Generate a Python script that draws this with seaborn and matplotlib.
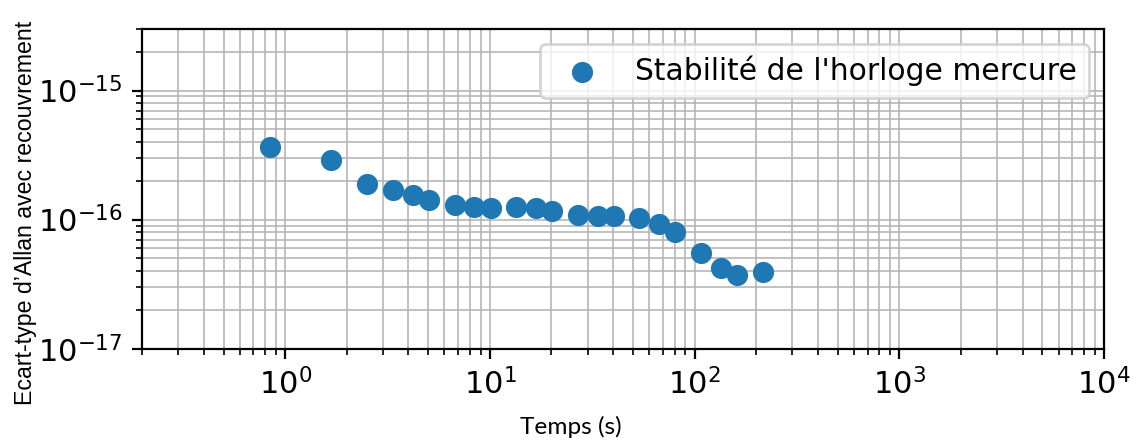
import numpy as np
import pandas as pd
import matplotlib
matplotlib.use("Agg")
import matplotlib.pyplot as plt
import seaborn as sns

# values
temps = [0.84, 1.68, 2.52, 3.36, 4.2, 5.04, 6.72, 8.4, 10.08, 13.44, 16.8,
         20.16, 26.88, 33.6, 40.32, 53.76, 67.2, 80.64, 107.5, 134.4, 161.3, 215.0]
ecart = [3.64e-16, 2.88e-16, 1.90e-16, 1.69e-16, 1.55e-16, 1.43e-16, 1.30e-16,
         1.25e-16, 1.24e-16, 1.245e-16, 1.22e-16, 1.17e-16, 1.09e-16, 1.06e-16,
         1.06e-16, 1.03e-16, 9.2e-17, 7.98e-17, 5.56e-17, 4.23e-17, 3.71e-17, 3.93e-17]
label = "Stabilité de l'horloge mercure"
xticks = [1, 10, 100, 1000, 10000]
yticks = [1e-17, 1e-16, 1e-15]

df = pd.DataFrame({"temps": temps, "ecart": ecart})

fig = plt.figure(figsize=(5.705, 2.22), dpi=200)
ax = fig.add_axes([0.1245, 0.2147, 0.9676 - 0.1245, 0.9347 - 0.2147])

sns.scatterplot(data=df, x="temps", y="ecart", ax=ax, s=58, color="#1f77b4",
                linewidth=0, label=label, zorder=3)

ax.set_xscale("log")
ax.set_yscale("log")
ax.set_xticks(xticks)
ax.set_yticks(yticks)
ax.set_xlim(0.2, 1e4)
ax.set_ylim(1e-17, 3e-15)
ax.set_axisbelow(True)
ax.grid(True, which="both", color="#b0b0b0", linewidth=0.55)
ax.tick_params(which="major", labelsize=11)
ax.set_xlabel(None)
ax.set_ylabel(None)
ax.legend(loc="upper right", fontsize=10.7)

fig.text(0.5, 0.038, "Temps (s)", ha="center", va="center", fontsize=8.8, family="Lato")
fig.text(0.022, 0.521, "Ecart-type d\u2019Allan avec recouvrement", ha="center", va="center",
         rotation=90, fontsize=8.35, family="Liberation Sans")

fig.savefig("out.png", dpi=200)
